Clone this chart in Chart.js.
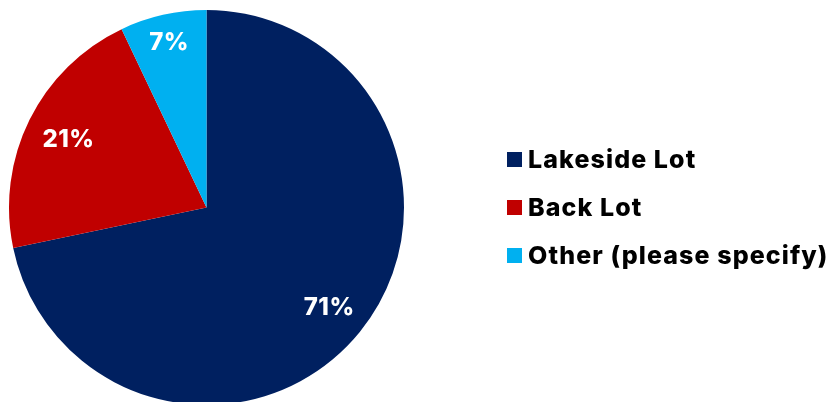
<!DOCTYPE html>
<html lang="en">

<head>
  <meta charset="UTF-8" />
  <title>Parking Preference</title>
  <script src="https://cdn.jsdelivr.net/npm/chart.js"></script>
  <style>
    html, body {
      margin: 0;
      padding: 0;
      background: #ffffff;
      overflow: hidden;
    }

    .wrap {
      position: relative;
      width: 833px;
      height: 402px;
      overflow: hidden;
    }

    #parkingChart {
      position: absolute;
      left: 0;
      top: 0;
    }

    .legend {
      position: absolute;
      left: 507px;
      top: 135px;
      font-family: Inter, "Open Sans", sans-serif;
      font-weight: 800;
      font-size: 25px;
      letter-spacing: 1.1px;
      color: #000000;
      list-style: none;
      margin: 0;
      padding: 0;
    }

    .legend li {
      display: flex;
      align-items: center;
      height: 48px;
      white-space: nowrap;
    }

    .legend .box {
      display: inline-block;
      width: 15px;
      height: 15px;
      margin-right: 6px;
    }
  </style>
</head>

<body>
  <div class="wrap">
    <canvas id="parkingChart" width="833" height="412"></canvas>
    <ul class="legend" id="legend"></ul>
  </div>

  <script>
    // Survey answers
    const labels = ['Lakeside Lot', 'Back Lot', 'Other (please specify)'];
    const percents = [71, 21, 7];
    const colors = ['#002060', '#C00000', '#00B0F0'];

    // how far out (fraction of radius) each percentage sits
    const labelRadius = [0.80, 0.78, 0.86];

    // Draws the white percentage inside each slice
    const sliceLabels = {
      id: 'sliceLabels',
      afterDatasetsDraw(chart) {
        const ctx = chart.ctx;
        const meta = chart.getDatasetMeta(0);
        ctx.save();
        ctx.fillStyle = '#ffffff';
        ctx.font = '800 24px Inter, "Open Sans", sans-serif';
        ctx.letterSpacing = '0.5px';
        ctx.textAlign = 'center';
        ctx.textBaseline = 'middle';
        meta.data.forEach((arc, i) => {
          const p = arc.getProps(['x', 'y', 'startAngle', 'endAngle', 'outerRadius'], true);
          const mid = (p.startAngle + p.endAngle) / 2;
          const r = p.outerRadius * labelRadius[i];
          ctx.fillText(percents[i] + '%', p.x + Math.cos(mid) * r, p.y + Math.sin(mid) * r + 1);
        });
        ctx.restore();
      }
    };

    const ctx = document.getElementById('parkingChart').getContext('2d');
    const parkingChart = new Chart(ctx, {
      type: 'pie',
      data: {
        labels: labels,
        datasets: [{
          data: percents,
          backgroundColor: colors,
          borderWidth: 0
        }]
      },
      options: {
        responsive: false,
        animation: false,
        layout: {
          padding: { left: 9, top: 10, right: 429, bottom: 7 }
        },
        plugins: {
          legend: { display: false },
          tooltip: { enabled: false }
        }
      },
      plugins: [sliceLabels]
    });

    // Legend built from the same labels and colours
    document.getElementById('legend').innerHTML = labels.map((name, i) =>
      `<li><span class="box" style="background:${colors[i]}"></span>${name}</li>`
    ).join('');
  </script>
</body>

</html>
